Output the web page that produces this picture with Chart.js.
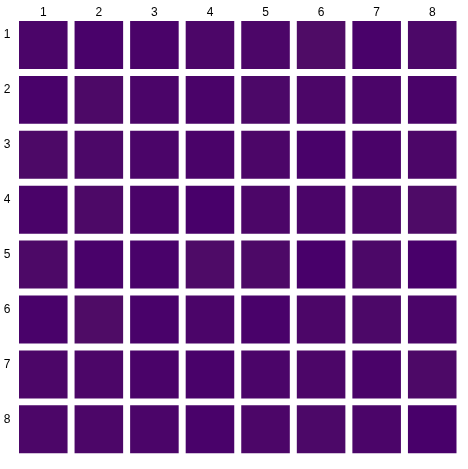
<!DOCTYPE html>
<html lang="en">
<head>
<meta charset="utf-8">
<title>Heatmap</title>
<script src="https://cdn.jsdelivr.net/npm/chart.js"></script>
<style>
  body { margin: 0; background: #fff; }
  #wrap { width: 468px; height: 469px; }
</style>
</head>
<body>
<div id="wrap"><canvas id="myChart" width="468" height="469"></canvas></div>
<script>
// columns / rows of the grid
const columns = ['1', '2', '3', '4', '5', '6', '7', '8'];
const rows = [1, 2, 3, 4, 5, 6, 7, 8];

// cell values per row (0 = darkest, 9 = lightest)
const row1 = [3, 1, 2, 4, 4, 8, 1, 5];
const row2 = [1, 6, 3, 2, 5, 4, 3, 2];
const row3 = [6, 5, 3, 2, 4, 1, 2, 4];
const row4 = [2, 6, 2, 0, 4, 3, 4, 7];
const row5 = [6, 1, 1, 7, 6, 0, 5, 0];
const row6 = [1, 8, 1, 3, 1, 4, 5, 3];
const row7 = [4, 4, 2, 1, 3, 4, 2, 6];
const row8 = [4, 4, 3, 1, 4, 5, 3, 0];
const values = [row1, row2, row3, row4, row5, row6, row7, row8];

const low = [72, 0, 106];
const high = [80, 14, 102];
function colorFor(v) {
  const t = v / 9;
  const c = low.map((l, i) => Math.round(l + (high[i] - l) * t));
  return 'rgb(' + c.join(',') + ')';
}

const half = 0.455;
const datasets = values.map((vals, r) => ({
  label: 'row ' + rows[r],
  data: vals.map(() => [rows[r] - half, rows[r] + half]),
  backgroundColor: vals.map(colorFor),
  borderColor: 'rgba(255,255,255,0.5)',
  borderWidth: 1,
  borderSkipped: false,
  barPercentage: 0.91,
  categoryPercentage: 1
}));

new Chart(document.getElementById('myChart'), {
  type: 'bar',
  data: { labels: columns, datasets: datasets },
  options: {
    responsive: false,
    animation: false,
    grouped: false,
    layout: { padding: { right: 8, bottom: 7 } },
    plugins: { legend: { display: false }, tooltip: { enabled: false } },
    scales: {
      x: {
        position: 'top',
        grid: { display: false, drawTicks: false },
        border: { display: false },
        ticks: { color: '#000', font: { family: 'Liberation Sans', size: 12 }, padding: -2 },
        afterFit: s => { s.height = 17.5; }
      },
      y: {
        reverse: true,
        min: 0.5,
        max: 8.5,
        grid: { display: false, drawTicks: false },
        border: { display: false },
        ticks: { color: '#000', font: { family: 'Liberation Sans', size: 12 }, padding: 5, labelOffset: -10 },
        afterBuildTicks: s => { s.ticks = rows.map(v => ({ value: v })); },
        afterFit: s => { s.width = 15.5; }
      }
    }
  }
});
</script>
</body>
</html>
